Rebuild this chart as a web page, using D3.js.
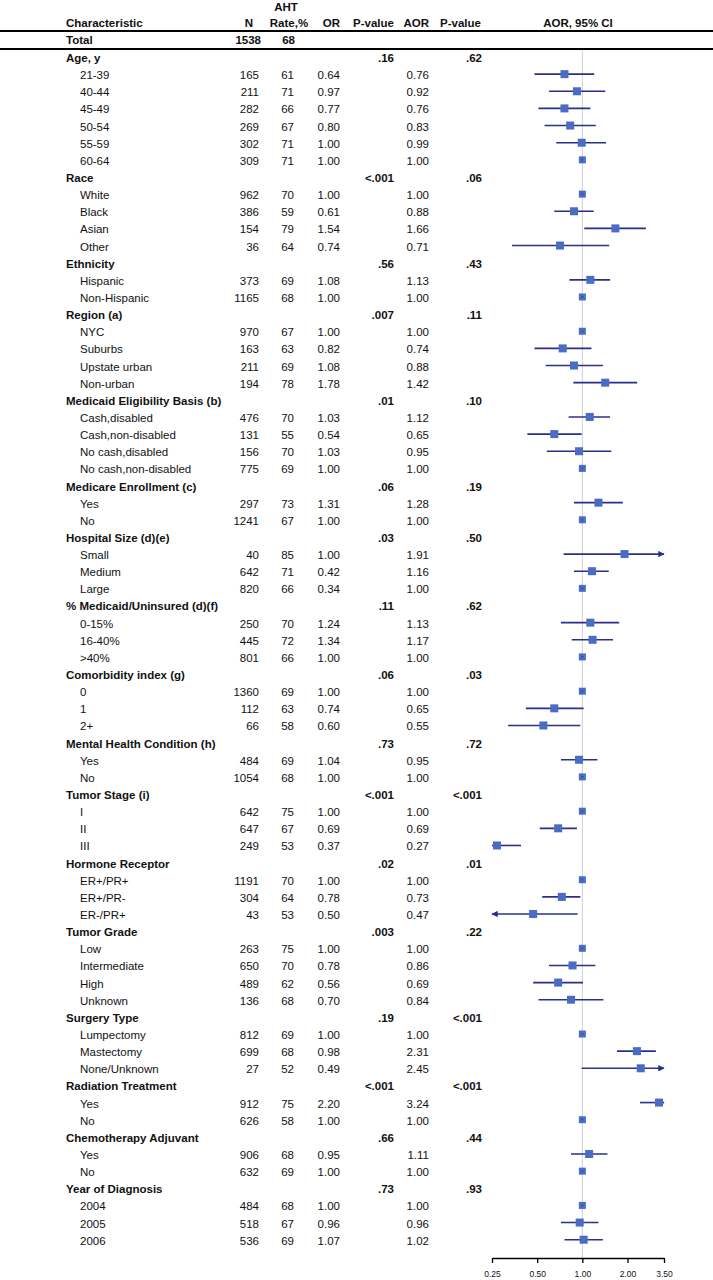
<!DOCTYPE html>
<html>
<head>
<meta charset="utf-8">
<script src="https://cdn.jsdelivr.net/npm/d3@7"></script>
<style>
  body { margin: 0; background: #fff; }
  text { font-family: Arial, "Liberation Sans", sans-serif; }
</style>
</head>
<body>
<script>
const width = 713;
const height = 1280;

// rows of the table, group rows have null values
const labels = ["Age, y","21-39","40-44","45-49","50-54","55-59","60-64",
  "Race","White","Black","Asian","Other",
  "Ethnicity","Hispanic","Non-Hispanic",
  "Region (a)","NYC","Suburbs","Upstate urban","Non-urban",
  "Medicaid Eligibility Basis (b)","Cash,disabled","Cash,non-disabled","No cash,disabled","No cash,non-disabled",
  "Medicare Enrollment (c)","Yes","No",
  "Hospital Size (d)(e)","Small","Medium","Large",
  "% Medicaid/Uninsured (d)(f)","0-15%","16-40%",">40%",
  "Comorbidity index (g)","0","1","2+",
  "Mental Health Condition (h)","Yes","No",
  "Tumor Stage (i)","I","II","III",
  "Hormone Receptor","ER+/PR+","ER+/PR-","ER-/PR+",
  "Tumor Grade","Low","Intermediate","High","Unknown",
  "Surgery Type","Lumpectomy","Mastectomy","None/Unknown",
  "Radiation Treatment","Yes","No",
  "Chemotherapy Adjuvant","Yes","No",
  "Year of Diagnosis","2004","2005","2006"];

const nVals = [null,165,211,282,269,302,309,
  null,962,386,154,36,
  null,373,1165,
  null,970,163,211,194,
  null,476,131,156,775,
  null,297,1241,
  null,40,642,820,
  null,250,445,801,
  null,1360,112,66,
  null,484,1054,
  null,642,647,249,
  null,1191,304,43,
  null,263,650,489,136,
  null,812,699,27,
  null,912,626,
  null,906,632,
  null,484,518,536];

const rateVals = [null,61,71,66,67,71,71,
  null,70,59,79,64,
  null,69,68,
  null,67,63,69,78,
  null,70,55,70,69,
  null,73,67,
  null,85,71,66,
  null,70,72,66,
  null,69,63,58,
  null,69,68,
  null,75,67,53,
  null,70,64,53,
  null,75,70,62,68,
  null,69,68,52,
  null,75,58,
  null,68,69,
  null,68,67,69];

const orVals = [null,0.64,0.97,0.77,0.80,1.00,1.00,
  null,1.00,0.61,1.54,0.74,
  null,1.08,1.00,
  null,1.00,0.82,1.08,1.78,
  null,1.03,0.54,1.03,1.00,
  null,1.31,1.00,
  null,1.00,0.42,0.34,
  null,1.24,1.34,1.00,
  null,1.00,0.74,0.60,
  null,1.04,1.00,
  null,1.00,0.69,0.37,
  null,1.00,0.78,0.50,
  null,1.00,0.78,0.56,0.70,
  null,1.00,0.98,0.49,
  null,2.20,1.00,
  null,0.95,1.00,
  null,1.00,0.96,1.07];

const aorVals = [null,0.76,0.92,0.76,0.83,0.99,1.00,
  null,1.00,0.88,1.66,0.71,
  null,1.13,1.00,
  null,1.00,0.74,0.88,1.42,
  null,1.12,0.65,0.95,1.00,
  null,1.28,1.00,
  null,1.91,1.16,1.00,
  null,1.13,1.17,1.00,
  null,1.00,0.65,0.55,
  null,0.95,1.00,
  null,1.00,0.69,0.27,
  null,1.00,0.73,0.47,
  null,1.00,0.86,0.69,0.84,
  null,1.00,2.31,2.45,
  null,3.24,1.00,
  null,1.11,1.00,
  null,1.00,0.96,1.02];

const ciLow = [null,0.48,0.60,0.51,0.56,0.67,1.00,
  null,1.00,0.65,1.03,0.34,
  null,0.82,1.00,
  null,1.00,0.48,0.57,0.87,
  null,0.81,0.43,0.58,1.00,
  null,0.88,1.00,
  null,0.75,0.88,1.00,
  null,0.72,0.85,1.00,
  null,1.00,0.42,0.32,
  null,0.72,1.00,
  null,1.00,0.52,0.25,
  null,1.00,0.54,0.24,
  null,1.00,0.60,0.47,0.51,
  null,1.00,1.70,0.99,
  null,2.42,1.00,
  null,0.84,1.00,
  null,1.00,0.72,0.76];

const ciHigh = [null,1.20,1.42,1.13,1.23,1.44,1.00,
  null,1.00,1.19,2.65,1.51,
  null,1.53,1.00,
  null,1.00,1.15,1.37,2.32,
  null,1.53,0.99,1.56,1.00,
  null,1.86,1.00,
  null,4.86,1.50,1.00,
  null,1.76,1.60,1.00,
  null,1.00,1.02,0.97,
  null,1.26,1.00,
  null,1.00,0.92,0.39,
  null,1.00,0.97,0.93,
  null,1.00,1.22,1.01,1.38,
  null,1.00,3.09,6.10,
  null,4.34,1.00,
  null,1.47,1.00,
  null,1.00,1.28,1.37];

// p-values for each group row, in order
const groupOrP = [".16","<.001",".56",".007",".01",".06",".03",".11",".06",".73","<.001",".02",".003",".19","<.001",".66",".73"];
const groupAorP = [".62",".06",".43",".11",".10",".19",".50",".62",".03",".72","<.001",".01",".22","<.001","<.001",".44",".93"];

const totalN = 1538;
const totalRate = 68;
const tickVals = [0.25, 0.5, 1, 2, 3.5];

const x = d3.scaleLog().domain([0.25, 3.5]).range([492, 664]);
const y = d3.scaleLinear().domain([0, labels.length - 1]).range([58, 1240.7]);
const axisY = 1258;

const rows = labels.map((l, i) => ({
  label: l, i: i, group: nVals[i] === null,
  n: nVals[i], rate: rateVals[i], or: orVals[i], aor: aorVals[i],
  lo: ciLow[i], hi: ciHigh[i]
}));
let g = 0;
rows.forEach(r => { if (r.group) { r.pOr = groupOrP[g]; r.pAor = groupAorP[g]; g++; } });

var svg = d3.select("body").append("svg")
  .attr("width", width)
  .attr("height", height);

svg.append("defs").append("marker")
  .attr("id", "arrow")
  .attr("viewBox", "0 0 10 10")
  .attr("refX", 9).attr("refY", 5)
  .attr("markerWidth", 4).attr("markerHeight", 4)
  .attr("orient", "auto-start-reverse")
  .append("path")
  .attr("d", "M0,0L10,5L0,10z")
  .attr("fill", "#2b2f8c");

const fs = 11.5;
const txt = "#111";

// header
function head(t, xx, yy, anchor) {
  svg.append("text").attr("x", xx).attr("y", yy)
    .attr("text-anchor", anchor).attr("font-size", fs)
    .attr("font-weight", "bold").attr("fill", txt).text(t);
}
head("AHT", 286, 11, "middle");
head("Characteristic", 66, 27, "start");
head("N", 249, 27, "middle");
head("Rate,%", 289, 27, "middle");
head("OR", 340, 27, "end");
head("P-value", 394, 27, "end");
head("AOR", 429, 27, "end");
head("P-value", 481, 27, "end");
head("AOR, 95% CI", 578, 27, "middle");

svg.append("line").attr("x1", 0).attr("x2", width).attr("y1", 31).attr("y2", 31)
  .attr("stroke", "#000").attr("stroke-width", 2);
svg.append("line").attr("x1", 0).attr("x2", width).attr("y1", 49).attr("y2", 49)
  .attr("stroke", "#000").attr("stroke-width", 2);

head("Total", 66, 44, "start");
head(totalN, 261, 44, "end");
head(totalRate, 295, 44, "end");

// reference line at 1
svg.append("line")
  .attr("x1", x(1)).attr("x2", x(1))
  .attr("y1", 50).attr("y2", axisY)
  .attr("stroke", "#cfcfd6").attr("stroke-width", 1);

const fmt = d3.format(".2f");
var rowG = svg.append("g").selectAll("g")
  .data(rows).enter().append("g")
  .attr("transform", d => "translate(0," + y(d.i) + ")");

rowG.append("text")
  .attr("x", d => d.group ? 66 : 80)
  .attr("y", 4)
  .attr("font-size", fs)
  .attr("font-weight", d => d.group ? "bold" : "normal")
  .attr("fill", txt)
  .text(d => d.label);

var items = rowG.filter(d => !d.group);
var groups = rowG.filter(d => d.group);

function col(sel, xx, f, bold) {
  sel.append("text").attr("x", xx).attr("y", 4)
    .attr("text-anchor", "end").attr("font-size", fs)
    .attr("font-weight", bold ? "bold" : "normal")
    .attr("fill", txt).text(f);
}
col(items, 259, d => d.n);
col(items, 294, d => d.rate);
col(items, 340, d => fmt(d.or));
col(items, 429, d => fmt(d.aor));
col(groups, 394, d => d.pOr, true);
col(groups, 482, d => d.pAor, true);

// confidence intervals
const [dmin, dmax] = x.domain();
items.filter(d => d.lo !== d.hi).append("line")
  .attr("x1", d => x(Math.max(d.lo, dmin)))
  .attr("x2", d => x(Math.min(d.hi, dmax)))
  .attr("y1", -1).attr("y2", -1)
  .attr("stroke", "#2b2f8c").attr("stroke-width", 1.6)
  .attr("marker-start", d => d.lo < dmin ? "url(#arrow)" : null)
  .attr("marker-end", d => d.hi > dmax ? "url(#arrow)" : null);

items.append("rect")
  .attr("x", d => x(d.aor) - (d.lo === d.hi ? 3.5 : 4))
  .attr("y", d => -1 - (d.lo === d.hi ? 3.5 : 4))
  .attr("width", d => d.lo === d.hi ? 7 : 8)
  .attr("height", d => d.lo === d.hi ? 7 : 8)
  .attr("fill", "#4a6cc3");

items.filter(d => d.lo === d.hi).append("circle")
  .attr("cx", d => x(d.aor)).attr("cy", -1).attr("r", 0.6)
  .attr("fill", "#1d2466");

// axis
var axis = svg.append("g")
  .attr("transform", "translate(0," + axisY + ")")
  .call(d3.axisBottom(x).tickValues(tickVals).tickFormat(fmt).tickSize(5).tickSizeOuter(0));
axis.select(".domain").attr("stroke-width", 1.5);
axis.selectAll(".tick line").attr("stroke-width", 1.3);
axis.selectAll(".tick text")
  .attr("font-size", 8.5)
  .attr("font-family", "Arial, 'Liberation Sans', sans-serif")
  .attr("fill", txt)
  .attr("dy", "1.25em");
</script>
</body>
</html>
